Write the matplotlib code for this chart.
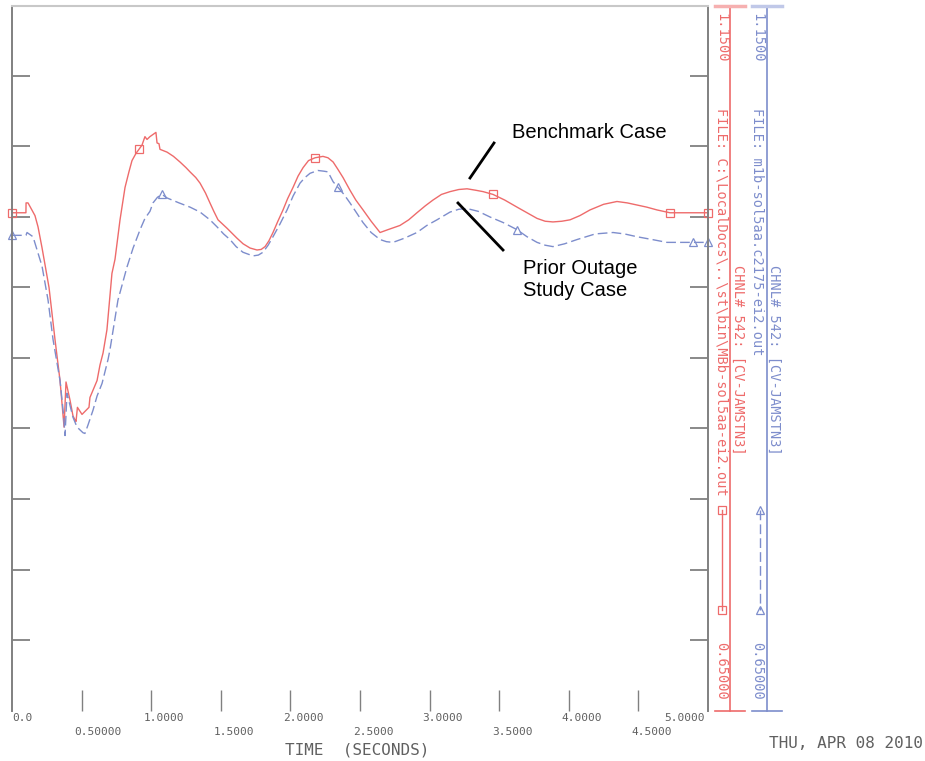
import matplotlib
matplotlib.use("Agg")
import numpy as np
import matplotlib.pyplot as plt
from matplotlib.transforms import blended_transform_factory, ScaledTranslation

# benchmark case (red, solid)
t_bench = [0.0, 0.100, 0.101, 0.115, 0.165, 0.187, 0.216, 0.266, 0.309, 0.345,
           0.374, 0.388, 0.417, 0.438, 0.453, 0.460, 0.470, 0.503, 0.553, 0.560,
           0.611, 0.632, 0.654, 0.682, 0.700, 0.718, 0.740, 0.776, 0.812, 0.840,
           0.862, 0.890, 0.912, 0.934, 0.955, 0.970, 0.991, 1.034, 1.042, 1.056,
           1.063, 1.114, 1.160, 1.207, 1.250, 1.279, 1.320, 1.351, 1.390, 1.422,
           1.450, 1.480, 1.545, 1.616, 1.660, 1.710, 1.760, 1.790, 1.818, 1.845,
           1.875, 1.910, 1.947, 1.980, 2.019, 2.055, 2.091, 2.130, 2.177, 2.234,
           2.270, 2.307, 2.340, 2.378, 2.428, 2.470, 2.522, 2.580, 2.644, 2.700,
           2.787, 2.850, 2.909, 2.970, 3.024, 3.085, 3.147, 3.210, 3.269, 3.330,
           3.384, 3.456, 3.540, 3.628, 3.700, 3.772, 3.830, 3.886, 3.950, 4.009,
           4.080, 4.152, 4.250, 4.346, 4.420, 4.490, 4.560, 4.634, 4.727, 4.820,
           5.000]
v_bench = [1.003, 1.003, 1.010, 1.010, 1.001, 0.993, 0.978, 0.950, 0.913, 0.884,
           0.851, 0.883, 0.870, 0.859, 0.856, 0.855, 0.865, 0.860, 0.865, 0.872,
           0.884, 0.895, 0.9035, 0.920, 0.940, 0.960, 0.970, 0.998, 1.021, 1.032,
           1.040, 1.045, 1.048, 1.051, 1.057, 1.055, 1.057, 1.060, 1.0525, 1.052,
           1.048, 1.046, 1.043, 1.039, 1.035, 1.032, 1.028, 1.024, 1.017, 1.010,
           1.004, 0.998, 0.992, 0.985, 0.981, 0.978, 0.9766, 0.977, 0.979, 0.983,
           0.989, 0.997, 1.005, 1.013, 1.021, 1.029, 1.035, 1.040, 1.042, 1.043,
           1.042, 1.039, 1.034, 1.028, 1.019, 1.012, 1.005, 0.997, 0.989, 0.991,
           0.994, 0.998, 1.003, 1.008, 1.012, 1.016, 1.018, 1.0195, 1.020, 1.019,
           1.018, 1.016, 1.012, 1.007, 1.003, 0.999, 0.997, 0.9965, 0.997, 0.998,
           1.001, 1.005, 1.009, 1.011, 1.010, 1.0085, 1.007, 1.005, 1.003, 1.003,
           1.003]
mark_bench = [0.0, 0.912, 2.177, 3.456, 4.727, 5.000]

# prior outage study case (blue, dashed)
t_prior = [0.0, 0.100, 0.108, 0.151, 0.216, 0.259, 0.295, 0.345, 0.370, 0.381,
           0.395, 0.438, 0.467, 0.510, 0.524, 0.546, 0.582, 0.611, 0.647, 0.690,
           0.704, 0.761, 0.826, 0.870, 0.920, 0.955, 0.991, 1.013, 1.045, 1.078,
           1.114, 1.200, 1.279, 1.351, 1.422, 1.473, 1.520, 1.566, 1.610, 1.659,
           1.731, 1.770, 1.803, 1.840, 1.875, 1.925, 1.976, 2.020, 2.069, 2.105,
           2.141, 2.198, 2.240, 2.270, 2.307, 2.342, 2.385, 2.428, 2.475, 2.522,
           2.580, 2.644, 2.690, 2.737, 2.820, 2.909, 2.980, 3.053, 3.147, 3.210,
           3.269, 3.350, 3.434, 3.530, 3.628, 3.700, 3.772, 3.830, 3.886, 3.970,
           4.059, 4.190, 4.318, 4.400, 4.490, 4.600, 4.705, 4.892, 5.000]
v_prior = [0.987, 0.987, 0.989, 0.986, 0.965, 0.941, 0.913, 0.884, 0.860, 0.845,
           0.875, 0.858, 0.851, 0.847, 0.8465, 0.8525, 0.863, 0.873, 0.882, 0.899,
           0.906, 0.941, 0.9645, 0.978, 0.991, 0.999, 1.004, 1.010, 1.014, 1.016,
           1.0135, 1.010, 1.007, 1.0035, 0.998, 0.993, 0.988, 0.984, 0.979, 0.975,
           0.9724, 0.973, 0.975, 0.980, 0.986, 0.995, 1.005, 1.015, 1.024, 1.028,
           1.031, 1.033, 1.0325, 1.032, 1.025, 1.021, 1.016, 1.010, 1.003, 0.996,
           0.989, 0.984, 0.9825, 0.982, 0.985, 0.989, 0.994, 0.998, 1.0035, 1.0055,
           1.006, 1.004, 1.000, 0.996, 0.991, 0.986, 0.982, 0.980, 0.979, 0.981,
           0.984, 0.988, 0.989, 0.988, 0.986, 0.984, 0.982, 0.982, 0.982]
mark_prior = [0.0, 1.078, 2.342, 3.628, 4.892, 5.000]

x_major = [0.0, 1.0, 2.0, 3.0, 4.0, 5.0]
x_major_lbl = ["0.0", "1.0000", "2.0000", "3.0000", "4.0000", "5.0000"]
x_minor = [0.5, 1.5, 2.5, 3.5, 4.5]
x_minor_lbl = ["0.50000", "1.5000", "2.5000", "3.5000", "4.5000"]

RED = "#ee6b6b"
BLUE = "#7d8dcc"
GRAY = "#808080"
TXT = "#606060"
MONO = "DejaVu Sans Mono"

fig = plt.figure(figsize=(9.25, 7.61), dpi=100)
ax = fig.add_axes([12 / 925, 50.5 / 761, 696 / 925, 705 / 761])

ax.plot(t_bench, v_bench, color=RED, lw=1.0, marker="s", ms=6, mfc="none",
        mec=RED, mew=0.9, markevery=[t_bench.index(m) for m in mark_bench],
        clip_on=False)
ax.plot(t_prior, v_prior, color=BLUE, lw=1.0, ls=(0, (7, 3)), marker="^", ms=5.5,
        mfc="none", mec=BLUE, mew=0.9,
        markevery=[t_prior.index(m) for m in mark_prior], clip_on=False)

ax.set_xlim(0, 5)
ax.set_ylim(0.65, 1.15)
ax.spines["bottom"].set_visible(False)
ax.spines["top"].set_color("#c8c8c8")
ax.spines["top"].set_linewidth(1.5)
for s in ("left", "right"):
    ax.spines[s].set_color(GRAY)
    ax.spines[s].set_linewidth(1.4)

ax.set_yticks(np.arange(0.70, 1.101, 0.05))
ax.tick_params(axis="y", direction="in", length=13, width=1.3, color=GRAY,
               left=True, right=True, labelleft=False)
ax.set_xticks(x_minor + [1.0, 2.0, 3.0, 4.0])
ax.tick_params(axis="x", direction="in", length=15, width=1.0, color=GRAY,
               labelbottom=False)

# staggered time labels
tr = blended_transform_factory(ax.transData, fig.transFigure)
for x, lbl in zip(x_major, x_major_lbl):
    if x == 0:
        off, ha = 0, "left"
    elif x == 5:
        off, ha = -3, "right"
    else:
        off, ha = -7, "left"
    ax.text(x, 1 - 718 / 761, lbl, ha=ha, va="center", fontsize=8, family=MONO,
            color=TXT, transform=tr + ScaledTranslation(off / 100, 0, fig.dpi_scale_trans))
for x, lbl in zip(x_minor, x_minor_lbl):
    ax.text(x, 1 - 732 / 761, lbl, ha="left", va="center", fontsize=8, family=MONO,
            color=TXT, transform=tr + ScaledTranslation(-7 / 100, 0, fig.dpi_scale_trans))

# overlay in pixel coordinates for the side legend and notes
ov = fig.add_axes([0, 0, 1, 1], zorder=3)
ov.set_xlim(0, 925)
ov.set_ylim(761, 0)
ov.axis("off")

ov.text(357, 750, "TIME  (SECONDS)", ha="center", va="center", fontsize=11.5,
        family=MONO, color=TXT)
ov.text(846, 743, "THU, APR 08 2010", ha="center", va="center", fontsize=11.5,
        family=MONO, color=TXT)

# red channel scale
ov.plot([730, 730], [5.5, 711], color=RED, lw=1.2)
ov.plot([715, 745], [5.5, 5.5], color="#f6b0b0", lw=2.5)
ov.plot([715, 745], [711, 711], color=RED, lw=1.2)
ov.plot([722, 722], [510, 610], color=RED, lw=1.0, marker="s", ms=6, mfc="none",
        mec=RED, mew=0.9)
ov.text(721, 13, "1.1500", rotation=-90, ha="center", va="top", fontsize=9.8,
        family=MONO, color=RED)
ov.text(721, 108, r"FILE: C:\LocalDocs\..\st\bin\MBb-sol5aa-ei2.out", rotation=-90,
        ha="center", va="top", fontsize=9.8, family=MONO, color=RED)
ov.text(738, 265, "CHNL# 542: [CV-JAMSTN3]", rotation=-90, ha="center", va="top",
        fontsize=9.8, family=MONO, color=RED)
ov.text(721, 700, "0.65000", rotation=-90, ha="center", va="bottom", fontsize=9.8,
        family=MONO, color=RED)

# blue channel scale
ov.plot([767, 767], [5.5, 711], color=BLUE, lw=1.2)
ov.plot([752, 782], [5.5, 5.5], color="#c0c8e8", lw=2.5)
ov.plot([752, 782], [711, 711], color=BLUE, lw=1.2)
ov.plot([760, 760], [510, 610], color=BLUE, lw=1.0, ls=(0, (7, 3)), marker="^",
        ms=5.5, mfc="none", mec=BLUE, mew=0.9)
ov.text(757, 13, "1.1500", rotation=-90, ha="center", va="top", fontsize=9.8,
        family=MONO, color=BLUE)
ov.text(757, 108, "FILE: m1b-sol5aa.c2175-ei2.out", rotation=-90, ha="center",
        va="top", fontsize=9.8, family=MONO, color=BLUE)
ov.text(774, 265, "CHNL# 542: [CV-JAMSTN3]", rotation=-90, ha="center", va="top",
        fontsize=9.8, family=MONO, color=BLUE)
ov.text(757, 700, "0.65000", rotation=-90, ha="center", va="bottom", fontsize=9.8,
        family=MONO, color=BLUE)

# callouts
ov.plot([470, 494], [178, 143], color="black", lw=2.0)
ov.plot([458, 503], [203, 250], color="black", lw=2.0)
ov.text(512, 133, "Benchmark Case", ha="left", va="center", fontsize=14.5,
        family="Liberation Sans", color="black")
ov.text(523, 280, "Prior Outage\nStudy Case", ha="left", va="center", fontsize=14.5,
        family="Liberation Sans", color="black", linespacing=1.2)

fig.savefig("out.png", dpi=100)
